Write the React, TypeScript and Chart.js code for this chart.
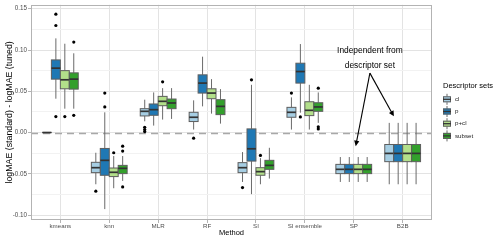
import { useEffect, useRef } from "react";
import { Chart, registerables } from "chart.js";

Chart.register(...registerables);

const methods = ["kmeans", "knn", "MLR", "RF", "SI", "SI ensemble", "SP", "B2B"];
const setNames = ["cl", "p", "p+cl", "subset"];
const setColors = ["#a6cee3", "#1f78b4", "#b2df8a", "#33a02c"];

// [lower whisker, Q1, median, Q3, upper whisker] for each method
const clBoxes = [
  [0, 0, 0, 0, 0],
  [-0.0627, -0.0486, -0.0426, -0.0361, -0.0245],
  [0.0136, 0.0201, 0.0257, 0.0289, 0.0398],
  [0.0036, 0.0133, 0.0185, 0.0245, 0.039],
  [-0.0599, -0.0486, -0.0426, -0.0365, -0.0237],
  [0.0036, 0.0185, 0.0245, 0.0305, 0.0426],
  [-0.0599, -0.0498, -0.0446, -0.0386, -0.0297],
  [-0.0627, -0.0353, -0.0253, -0.0145, 0.0117],
];
const pBoxes = [
  [0.041, 0.0647, 0.078, 0.088, 0.1141],
  [-0.0928, -0.0518, -0.0337, -0.0193, 0.0245],
  [0.0084, 0.0209, 0.0277, 0.0346, 0.0486],
  [0.0317, 0.0478, 0.0599, 0.0699, 0.0919],
  [-0.0747, -0.0346, -0.0197, 0.0044, 0.0578],
  [0.024, 0.0599, 0.0739, 0.084, 0.1072],
  [-0.0599, -0.0498, -0.0446, -0.0386, -0.0297],
  [-0.0627, -0.0353, -0.0253, -0.0145, 0.0117],
];
const pclBoxes = [
  [0.0289, 0.053, 0.0639, 0.075, 0.1076],
  [-0.0675, -0.0534, -0.0482, -0.043, -0.0285],
  [0.0157, 0.0325, 0.0378, 0.0438, 0.0538],
  [0.0229, 0.041, 0.0478, 0.053, 0.0647],
  [-0.0627, -0.0518, -0.0474, -0.0426, -0.031],
  [0.0036, 0.0205, 0.0269, 0.0373, 0.0578],
  [-0.0599, -0.0498, -0.0446, -0.0386, -0.0297],
  [-0.0627, -0.0353, -0.0253, -0.0145, 0.0117],
];
const subsetBoxes = [
  [0.0289, 0.0526, 0.0647, 0.0723, 0.096],
  [-0.0586, -0.0498, -0.0434, -0.0398, -0.0285],
  [0.0165, 0.0289, 0.0358, 0.0406, 0.0538],
  [0.0108, 0.0217, 0.0317, 0.0398, 0.0526],
  [-0.0558, -0.0446, -0.0398, -0.0337, -0.0185],
  [0.0117, 0.0257, 0.031, 0.0361, 0.0486],
  [-0.0599, -0.0498, -0.0446, -0.0386, -0.0297],
  [-0.0627, -0.0353, -0.0253, -0.0145, 0.0117],
];

// outliers: [method index, value]
const clOutliers = [[1, -0.0711], [2, 0.0064], [2, 0.0036], [2, 0.0012], [3, -0.0068], [4, -0.0667], [5, 0.0478]];
const pOutliers = [[0, 0.1434], [0, 0.1297], [0, 0.0193], [1, 0.0478], [1, 0.031], [4, 0.0639], [5, 0.0189]];
const pclOutliers = [[0, 0.0193], [1, -0.0245], [2, 0.0614], [4, -0.0277]];
const subsetOutliers = [[0, 0.1096], [0, 0.0208], [1, -0.0165], [1, -0.0225], [1, -0.0659], [5, 0.0538], [5, 0.0069], [5, 0.0044]];

const yTicks = [-0.1, -0.075, -0.05, -0.025, 0, 0.025, 0.05, 0.075, 0.1, 0.125, 0.15];
const yTickLabels = ["-0.10", "", "-0.05", "", "0.00", "", "0.05", "", "0.10", "", "0.15"];

const annotationLines = ["Independent from", "descriptor set"];

const allBoxes = [clBoxes, pBoxes, pclBoxes, subsetBoxes];
const allOutliers = [clOutliers, pOutliers, pclOutliers, subsetOutliers];

const DODGE = 0.183;
const FONT = "'Liberation Sans', Arial, sans-serif";

const boxPlugin = {
  id: "boxes",
  beforeDatasetsDraw(chart: any) {
    const { ctx, chartArea } = chart;
    const x = chart.scales.x;
    const y = chart.scales.y;
    ctx.save();
    // zero reference line
    const y0 = Math.round(y.getPixelForValue(0)) + 0.5;
    ctx.strokeStyle = "#a8a8a8";
    ctx.lineWidth = 1.4;
    ctx.setLineDash([7, 5]);
    ctx.beginPath();
    ctx.moveTo(chartArea.left, y0);
    ctx.lineTo(chartArea.right, y0);
    ctx.stroke();
    ctx.setLineDash([]);
    allBoxes.forEach((boxes, s) => {
      boxes.forEach((b, m) => {
        const c = m + (s - 1.5) * DODGE;
        const cx = x.getPixelForValue(c);
        const xl = x.getPixelForValue(c - DODGE / 2);
        const xr = x.getPixelForValue(c + DODGE / 2);
        const [lo, q1, med, q3, hi] = b.map((v) => y.getPixelForValue(v));
        ctx.strokeStyle = "#6a6a6a";
        ctx.lineWidth = 1;
        ctx.beginPath();
        ctx.moveTo(cx, hi);
        ctx.lineTo(cx, q3);
        ctx.moveTo(cx, q1);
        ctx.lineTo(cx, lo);
        ctx.stroke();
        ctx.fillStyle = setColors[s];
        ctx.fillRect(xl, q3, xr - xl, q1 - q3);
        ctx.strokeStyle = "#5e5e5e";
        ctx.strokeRect(xl, q3, xr - xl, q1 - q3);
        ctx.strokeStyle = "#333333";
        ctx.lineWidth = 1.7;
        ctx.beginPath();
        ctx.moveTo(xl, med);
        ctx.lineTo(xr, med);
        ctx.stroke();
      });
    });
    ctx.restore();
  },
  afterDraw(chart: any) {
    const { ctx, chartArea } = chart;
    const x = chart.scales.x;
    const y = chart.scales.y;
    ctx.save();
    // panel border
    ctx.strokeStyle = "#b3b3b3";
    ctx.lineWidth = 1;
    ctx.strokeRect(
      Math.round(chartArea.left) + 0.5,
      Math.round(chartArea.top) + 0.5,
      Math.round(chartArea.right - chartArea.left) - 1,
      Math.round(chartArea.bottom - chartArea.top) - 1
    );
    // annotation text
    ctx.fillStyle = "#000";
    ctx.font = `8.4px ${FONT}`;
    ctx.textAlign = "center";
    ctx.textBaseline = "middle";
    const tx = x.getPixelForValue(6.33);
    ctx.fillText(annotationLines[0], tx, y.getPixelForValue(0.0991));
    ctx.fillText(annotationLines[1], tx, y.getPixelForValue(0.0811));
    // arrows
    const sx = x.getPixelForValue(6.33);
    const sy = y.getPixelForValue(0.072);
    const ends = [
      [6.04, -0.0165],
      [6.82, 0.0196],
    ];
    ctx.strokeStyle = "#000";
    ctx.lineWidth = 1.1;
    ends.forEach(([ex0, ey0]) => {
      const ex = x.getPixelForValue(ex0);
      const ey = y.getPixelForValue(ey0);
      const ang = Math.atan2(ey - sy, ex - sx);
      const L = 6;
      const a = Math.PI / 7;
      ctx.beginPath();
      ctx.moveTo(sx, sy);
      ctx.lineTo(ex - Math.cos(ang) * 3, ey - Math.sin(ang) * 3);
      ctx.stroke();
      ctx.beginPath();
      ctx.moveTo(ex, ey);
      ctx.lineTo(ex - L * Math.cos(ang - a), ey - L * Math.sin(ang - a));
      ctx.lineTo(ex - L * Math.cos(ang + a), ey - L * Math.sin(ang + a));
      ctx.closePath();
      ctx.fillStyle = "#000";
      ctx.fill();
    });
    // legend
    ctx.textAlign = "left";
    ctx.fillStyle = "#000";
    ctx.font = `7.5px ${FONT}`;
    ctx.fillText("Descriptor sets", 443, 86);
    setNames.forEach((name, i) => {
      const cy = 99.3 + i * 12.2;
      const kx = 443;
      const kw = 8;
      ctx.strokeStyle = "#6a6a6a";
      ctx.lineWidth = 1;
      ctx.beginPath();
      ctx.moveTo(kx + kw / 2, cy - 5.5);
      ctx.lineTo(kx + kw / 2, cy + 5.5);
      ctx.stroke();
      ctx.fillStyle = setColors[i];
      ctx.fillRect(kx, cy - 3, kw, 6);
      ctx.strokeStyle = "#5e5e5e";
      ctx.strokeRect(kx + 0.5, cy - 3 + 0.5, kw - 1, 6 - 1);
      ctx.strokeStyle = "#333";
      ctx.lineWidth = 1.3;
      ctx.beginPath();
      ctx.moveTo(kx, cy);
      ctx.lineTo(kx + kw, cy);
      ctx.stroke();
      ctx.fillStyle = "#1a1a1a";
      ctx.font = `6.2px ${FONT}`;
      ctx.fillText(name, 455, cy);
    });
    ctx.restore();
  },
};

export default function App() {
  const ref = useRef<HTMLCanvasElement | null>(null);
  useEffect(() => {
    document.body.style.margin = "0";
    Chart.defaults.font.family = FONT;
    const canvas = ref.current;
    if (!canvas) return;
    const datasets = allOutliers.map((outs, s) => ({
      label: setNames[s],
      data: outs.map(([m, v]) => ({ x: m + (s - 1.5) * DODGE, y: v })),
      pointRadius: 1.6,
      pointBackgroundColor: "#000",
      pointBorderWidth: 0,
      showLine: false,
    }));
    const chart = new Chart(canvas, {
      type: "scatter",
      data: { datasets },
      plugins: [boxPlugin],
      options: {
        animation: false,
        responsive: false,
        events: [],
        layout: { padding: { top: 4, right: 68, left: 0, bottom: 0 } },
        plugins: { legend: { display: false }, tooltip: { enabled: false } },
        scales: {
          x: {
            type: "linear",
            min: -0.6,
            max: 7.6,
            afterBuildTicks: (scale: any) => {
              scale.ticks = methods.map((_, i) => ({ value: i }));
            },
            afterFit: (scale: any) => {
              scale.height = 21;
            },
            ticks: {
              autoSkip: false,
              maxRotation: 0,
              padding: 0,
              color: "#4d4d4d",
              font: { size: 6.2 },
              callback: (v: any) => methods[Math.round(Number(v))] ?? "",
            },
            grid: { color: "#e3e3e3", lineWidth: 1, tickLength: 3, tickColor: "#b3b3b3" },
            border: { display: false },
            title: {
              display: true,
              text: "Method",
              color: "#000",
              font: { size: 7.5 },
              padding: { top: 0, bottom: 3.5 },
            },
          },
          y: {
            type: "linear",
            min: -0.106,
            max: 0.1548,
            afterBuildTicks: (scale: any) => {
              scale.ticks = yTicks.map((v) => ({ value: v }));
            },
            afterFit: (scale: any) => {
              scale.width = 31;
            },
            ticks: {
              autoSkip: false,
              padding: 1,
              color: "#4d4d4d",
              font: { size: 6.3 },
              callback: (_v: any, i: number) => yTickLabels[i] ?? "",
            },
            grid: {
              color: (c: any) => (c.index % 2 === 0 ? "#e3e3e3" : "#f2f2f2"),
              lineWidth: 1,
              tickLength: 3,
              tickColor: (c: any) => (c.index % 2 === 0 ? "#b3b3b3" : "rgba(0,0,0,0)"),
            },
            border: { display: false },
            title: {
              display: true,
              text: "logMAE (standard) - logMAE (tuned)",
              color: "#000",
              font: { size: 8.8 },
              padding: { top: 4.7, bottom: 0 },
            },
          },
        },
      } as any,
    });
    return () => chart.destroy();
  }, []);
  return (
    <div style={{ position: "absolute", left: 0, top: 0, width: 500, height: 241 }}>
      <canvas ref={ref} width={500} height={241} />
    </div>
  );
}
